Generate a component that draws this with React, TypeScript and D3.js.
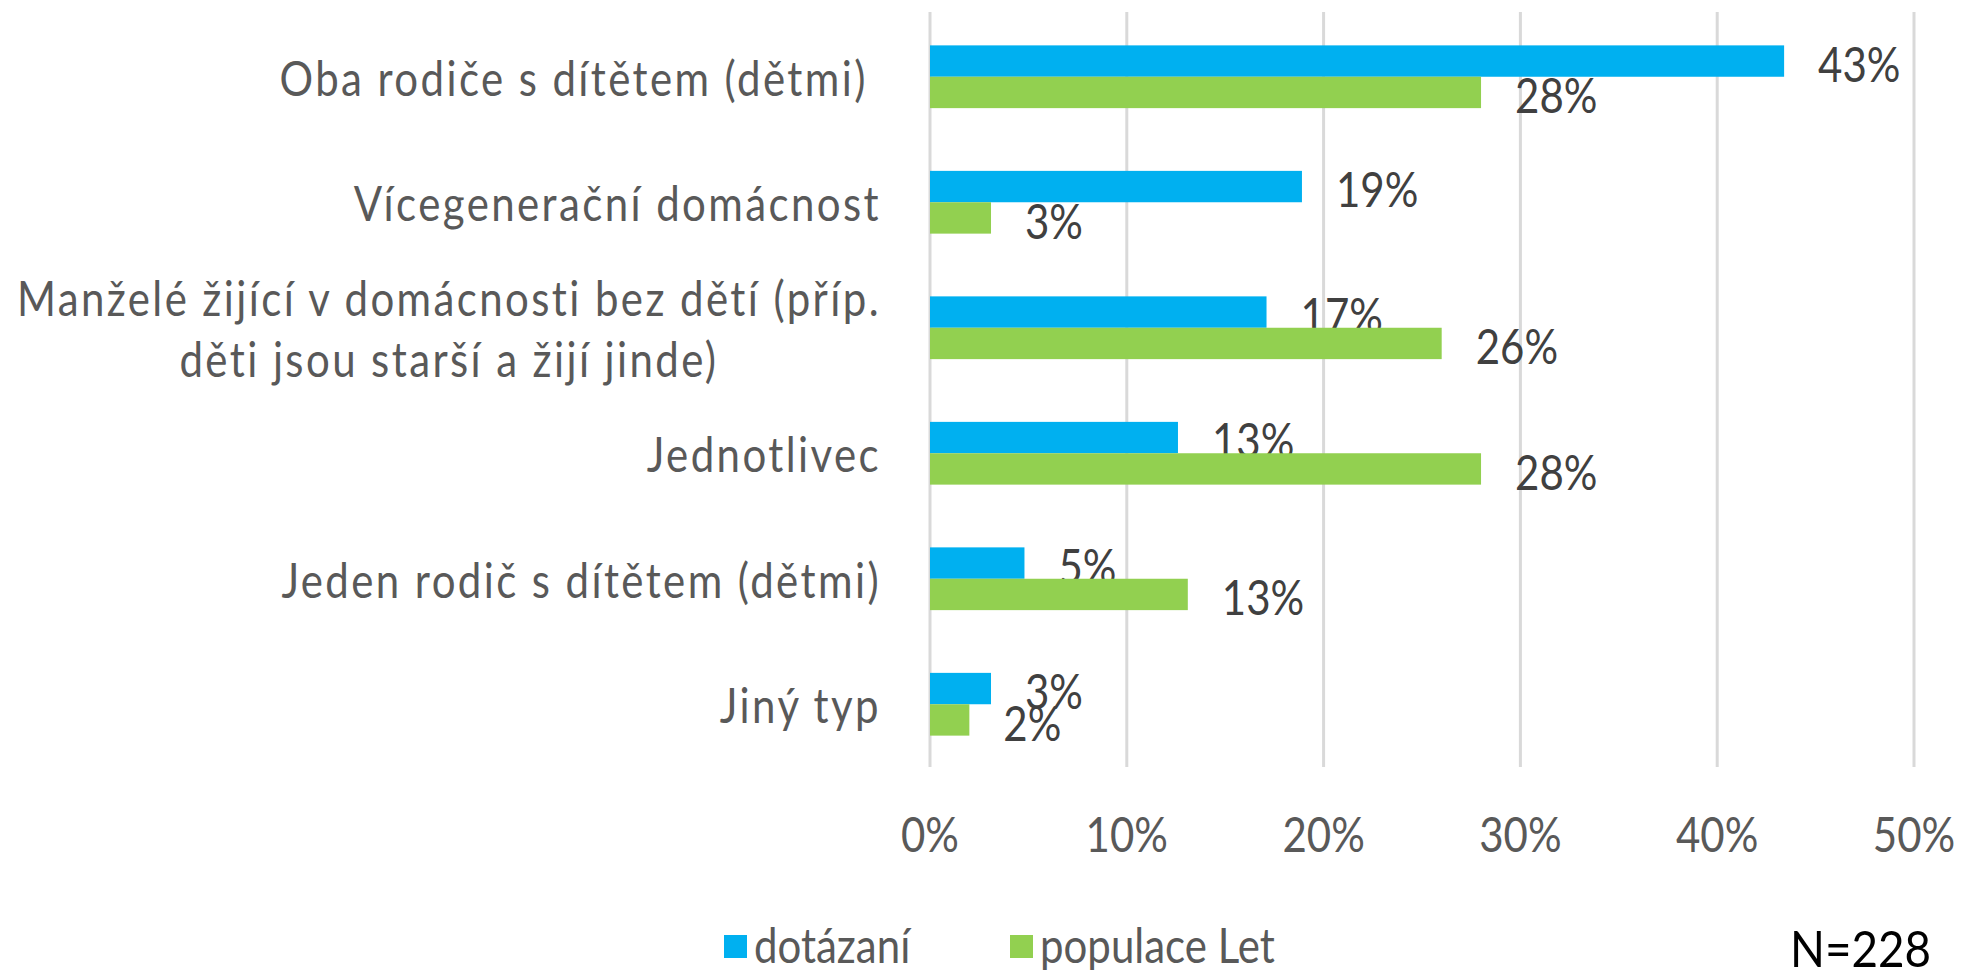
import * as d3 from "d3";
import { useLayoutEffect, useRef, useState } from "react";

// category labels, top to bottom (multi-line ones split per line)
const categories = [
  ["Oba rodiče s dítětem (dětmi) "],
  ["Vícegenerační domácnost"],
  ["Manželé žijící v domácnosti bez dětí (příp.", "děti jsou starší a žijí jinde)"],
  ["Jednotlivec"],
  ["Jeden rodič s dítětem (dětmi)"],
  ["Jiný typ"],
];
const dotazani = [43.4, 18.9, 17.1, 12.6, 4.8, 3.1];
const populaceLet = [28, 3.1, 26, 28, 13.1, 2];
const seriesNames = ["dotázaní", "populace Let"];
const tickValues = [0, 10, 20, 30, 40, 50];
const note = "N=228";

const WIDTH = 1965;
const HEIGHT = 970;
const colors = ["#00B0F0", "#92D050"];
const FONT = "Lato, 'Open Sans', sans-serif";
const FS = 42;
const SY = 1.15; // the original text looks vertically stretched

function CategoryLabel({ lines, right, cy }: { lines: string[]; right: number; cy: number }) {
  const ref = useRef<SVGTextElement>(null);
  const [w, setW] = useState(0);
  useLayoutEffect(() => {
    if (ref.current) setW(ref.current.getBBox().width);
  }, []);
  const lh = 61;
  const y0 = cy - ((lines.length - 1) * lh) / 2;
  return (
    <text
      ref={ref}
      transform={`translate(${right - w / 2},${y0}) scale(1,${SY})`}
      textAnchor="middle"
      dominantBaseline="central"
      fontSize={FS}
      letterSpacing={2.4}
      fill="#595959"
      fontFamily={FONT}
      style={{ whiteSpace: "pre" }}
    >
      {lines.map((l, i) => (
        <tspan key={i} x={0} y={(i * lh) / SY}>
          {l}
        </tspan>
      ))}
    </text>
  );
}

export default function App() {
  const x = d3.scaleLinear().domain([0, 50]).range([930, 1914]);
  const y = d3
    .scaleBand<number>()
    .domain(d3.range(categories.length))
    .range([14, 767])
    .paddingInner(0.5)
    .paddingOuter(0.25);
  const sub = d3.scaleBand<number>().domain([0, 1]).range([0, y.bandwidth()]);
  const series = [dotazani, populaceLet];

  return (
    <svg
      width={WIDTH}
      height={HEIGHT}
      style={{ position: "absolute", left: 0, top: 0, background: "#fff" }}
    >
      {/* gridlines */}
      {tickValues.map((t) => (
        <line key={t} x1={x(t)} x2={x(t)} y1={12} y2={767} stroke="#d9d9d9" strokeWidth={3} />
      ))}
      {/* tick labels */}
      {tickValues.map((t) => (
        <text
          key={t}
          transform={`translate(${x(t)},833) scale(1,${SY})`}
          textAnchor="middle"
          dominantBaseline="central"
          fontSize={FS}
          fill="#595959"
          fontFamily={FONT}
        >
          {t}%
        </text>
      ))}
      {/* bars and data labels */}
      {series.map((vals, s) =>
        vals.map((v, i) => {
          const by = (y(i) ?? 0) + (sub(s) ?? 0);
          const bh = sub.bandwidth();
          return (
            <g key={`${s}-${i}`}>
              <rect x={x(0)} y={by} width={x(v) - x(0)} height={bh} fill={colors[s]} />
              <text
                transform={`translate(${x(v) + 34},${by + bh / 2 + 2}) scale(1,${SY})`}
                dominantBaseline="central"
                fontSize={FS}
                fill="#404040"
                fontFamily={FONT}
              >
                {Math.round(v)}%
              </text>
            </g>
          );
        })
      )}
      {/* category labels */}
      {categories.map((lines, i) => (
        <CategoryLabel key={i} lines={lines} right={881} cy={(y(i) ?? 0) + y.bandwidth() / 2} />
      ))}
      {/* legend */}
      {seriesNames.map((n, s) => {
        const lx = [724, 1010][s];
        return (
          <g key={n}>
            <rect x={lx} y={935} width={23} height={23} fill={colors[s]} />
            <text
              transform={`translate(${lx + 30},944) scale(1,${SY})`}
              dominantBaseline="central"
              fontSize={FS}
              fill="#595959"
              fontFamily={FONT}
            >
              {n}
            </text>
          </g>
        );
      })}
      <text
        transform={`translate(1790,947) scale(1.04,${SY})`}
        dominantBaseline="central"
        fontSize={44}
        fill="#000"
        fontFamily={FONT}
      >
        {note}
      </text>
    </svg>
  );
}
